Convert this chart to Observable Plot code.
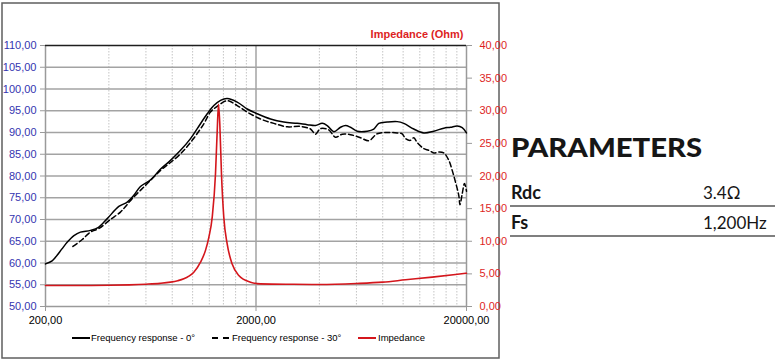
<!DOCTYPE html>
<html><head><meta charset="utf-8">
<script src="https://cdn.jsdelivr.net/npm/d3@7"></script>
<script src="https://cdn.jsdelivr.net/npm/@observablehq/plot@0.6"></script>
<style>
html,body{margin:0;padding:0;background:#fff;}
#wrap{position:relative;width:775px;height:361px;overflow:hidden;font-family:"Liberation Sans",Arial,sans-serif;}
#overlay{position:absolute;left:0;top:0;}
#chart{position:absolute;left:0;top:0;}
</style></head><body>
<div id="wrap">
<svg id="overlay" width="775" height="361" xmlns="http://www.w3.org/2000/svg">
  <rect x="2" y="3" width="497" height="355" fill="none" stroke="#5f5f5f" stroke-width="1.5"/>
  <g font-family="Liberation Sans, Arial, sans-serif" font-size="9.5" fill="#000">
    <line x1="72" x2="90" y1="338" y2="338" stroke="#000" stroke-width="2"/>
    <text x="91" y="340.5">Frequency response - 0°</text>
    <line x1="212" x2="229" y1="338" y2="338" stroke="#000" stroke-width="2" stroke-dasharray="6,5"/>
    <text x="232" y="340.5">Frequency response - 30°</text>
    <line x1="358" x2="376" y1="338" y2="338" stroke="#d4161c" stroke-width="2"/>
    <text x="378" y="340.5">Impedance</text>
  </g>
  <g font-family="Lato, 'Open Sans', sans-serif" fill="#161616">
    <text x="511" y="156.5" font-size="27" font-weight="900" textLength="191" lengthAdjust="spacingAndGlyphs">PARAMETERS</text>
    <text x="511" y="198.5" font-size="18" font-weight="700">Rdc</text>
    <text x="703" y="198.5" font-size="17" font-weight="400">3.4Ω</text>
    <line x1="510" x2="775" y1="206" y2="206" stroke="#555" stroke-width="1.5"/>
    <text x="511" y="228.5" font-size="18" font-weight="700">Fs</text>
    <text x="703" y="228.5" font-size="17" font-weight="400">1,200Hz</text>
    <line x1="510" x2="775" y1="236" y2="236" stroke="#555" stroke-width="1.5"/>
  </g>
</svg>
<div id="chart"></div>
</div>
<script>
// Frequency response 0° (Hz, dB)
const freq0 = [200,215,223,240,254,273,293,327,357,393,446,489,524,565,631,704,785,876,977,1052,1173,1261,1357,1459,1628,1816,2026,2344,2710,3138,3502,3835,4126,4358,4686,5040,5324,5623,6052,6752,7254,7662,8402,9374,10072,11236,12536,13988,15606,16790,18066,19082,20000];
const spl0 = [59.8,60.5,61.3,63.3,64.8,66.3,67.1,67.5,68.2,70.2,73.0,74.0,75.5,77.6,79.1,81.6,83.6,85.9,88.6,90.9,94.3,96.2,97.4,97.8,97.0,95.4,94.3,93.1,92.4,92.1,91.8,91.6,92.1,91.6,90.2,91.2,91.6,91.2,90.3,90.3,90.8,92.1,92.4,92.5,92.1,90.8,89.9,90.3,91.0,91.2,91.5,91.1,89.9];
// Frequency response 30° (Hz, dB)
const freq30 = [270,299,327,358,407,454,480,516,565,631,704,771,876,995,1130,1215,1308,1459,1628,1816,2100,2430,2814,3254,3630,3835,4050,4435,4772,5135,5623,6272,6870,7530,8402,9374,9900,10262,10840,11236,11662,12536,13242,13988,14772,15606,16482,17106,17732,18386,18620,19082,19566,20000];
const spl30 = [63.8,65.4,67.1,67.9,70.0,71.7,73.0,74.8,76.7,79.0,81.3,82.8,85.1,88.2,92.0,94.7,96.0,97.3,96.2,94.7,93.1,92.1,91.3,91.4,90.8,89.6,90.9,90.6,88.9,89.6,89.5,88.8,88.1,89.7,90.0,89.9,89.7,88.6,88.2,88.8,87.7,86.3,85.9,85.3,85.5,85.3,83.6,81.3,78.6,75.5,73.4,75.9,78.3,76.5];
// Impedance (Hz, Ohm)
const freqZ = [200,300,400,500,600,700,785,850,908,960,1013,1090,1151,1194,1239,1284,1308,1327,1346,1371,1406,1459,1541,1657,1883,2100,3000,4000,6000,8000,10262,13740,17732,20000];
const ohmZ = [3.22,3.22,3.25,3.32,3.42,3.55,3.73,3.95,4.24,4.65,5.26,6.8,8.6,10.6,13.7,20.3,26.8,31.0,28.0,20.3,13.7,9.6,6.5,4.75,3.73,3.47,3.4,3.37,3.52,3.73,4.09,4.5,4.9,5.1];

const dbTicks = [50,55,60,65,70,75,80,85,90,95,100,105,110];
const ohmTicks = [0,5,10,15,20,25,30,35,40];
const xTicks = [200,2000,20000];
const xMinor = [400,600,800,1000,1200,1400,1600,1800,4000,6000,8000,10000,12000,14000,16000,18000];

// secondary axis: 0..40 Ohm mapped onto 50..110 dB
const ohmToDb = o => 50 + o * 1.5;
const dbToOhm = d => (d - 50) / 1.5;
const fmt = v => v.toFixed(2).replace(".", ",");

const rows0 = freq0.map((f, i) => ({f, v: spl0[i]}));
const rows30 = freq30.map((f, i) => ({f, v: spl30[i]}));
const rowsZ = freqZ.map((f, i) => ({f, v: ohmToDb(ohmZ[i])}));

const chart = Plot.plot({
  width: 500,
  height: 361,
  marginTop: 45,
  marginBottom: 55,
  marginLeft: 45,
  marginRight: 34,
  style: {fontFamily: "Liberation Sans, Arial, sans-serif", fontSize: "11px", background: "transparent", overflow: "visible"},
  x: {type: "log", domain: [200, 20000]},
  y: {domain: [50, 110]},
  marks: [
    Plot.ruleX(xMinor, {stroke: "#c4c4c4", strokeWidth: 1, strokeDasharray: "1.5,1.5"}),
    Plot.ruleY(dbTicks.filter(d => d > 50 && d < 110), {stroke: "#a3a3a3", strokeWidth: 1.5}),
    Plot.ruleX([2000], {stroke: "#a3a3a3", strokeWidth: 1.5}),
    Plot.ruleX([200, 20000], {stroke: "#9a9a9a", strokeWidth: 1.5}),
    Plot.ruleY([50], {stroke: "#9a9a9a", strokeWidth: 1.5}),
    Plot.ruleY([110], {stroke: "#1e1e1e", strokeWidth: 1.5}),
    Plot.axisY(dbTicks, {anchor: "left", tickFormat: fmt, tickSize: 5, tickPadding: 4, stroke: "#9a9a9a", fill: "#3434b0", label: null}),
    Plot.axisY(ohmTicks.map(ohmToDb), {anchor: "right", tickFormat: d => fmt(dbToOhm(d)), tickSize: 5, tickPadding: 8, stroke: "#9a9a9a", fill: "#dd1f1f", label: null}),
    Plot.axisX(xTicks, {tickFormat: fmt, tickSize: 5, tickPadding: 5, stroke: "#9a9a9a", fill: "#000", label: null}),
    Plot.text(["Impedance (Ohm)"], {frameAnchor: "top-right", dx: -3, dy: -8, lineAnchor: "bottom", fill: "#dd1f1f", fontWeight: "bold", fontSize: 11}),
    Plot.line(rows0, {x: "f", y: "v", stroke: "#000", strokeWidth: 1.5, curve: "catmull-rom"}),
    Plot.line(rows30, {x: "f", y: "v", stroke: "#000", strokeWidth: 1.5, strokeDasharray: "5,3", curve: "catmull-rom"}),
    Plot.line(rowsZ, {x: "f", y: "v", stroke: "#d4161c", strokeWidth: 1.6, curve: "monotone-x"})
  ]
});
document.getElementById("chart").appendChild(chart);
</script>
</body></html>
